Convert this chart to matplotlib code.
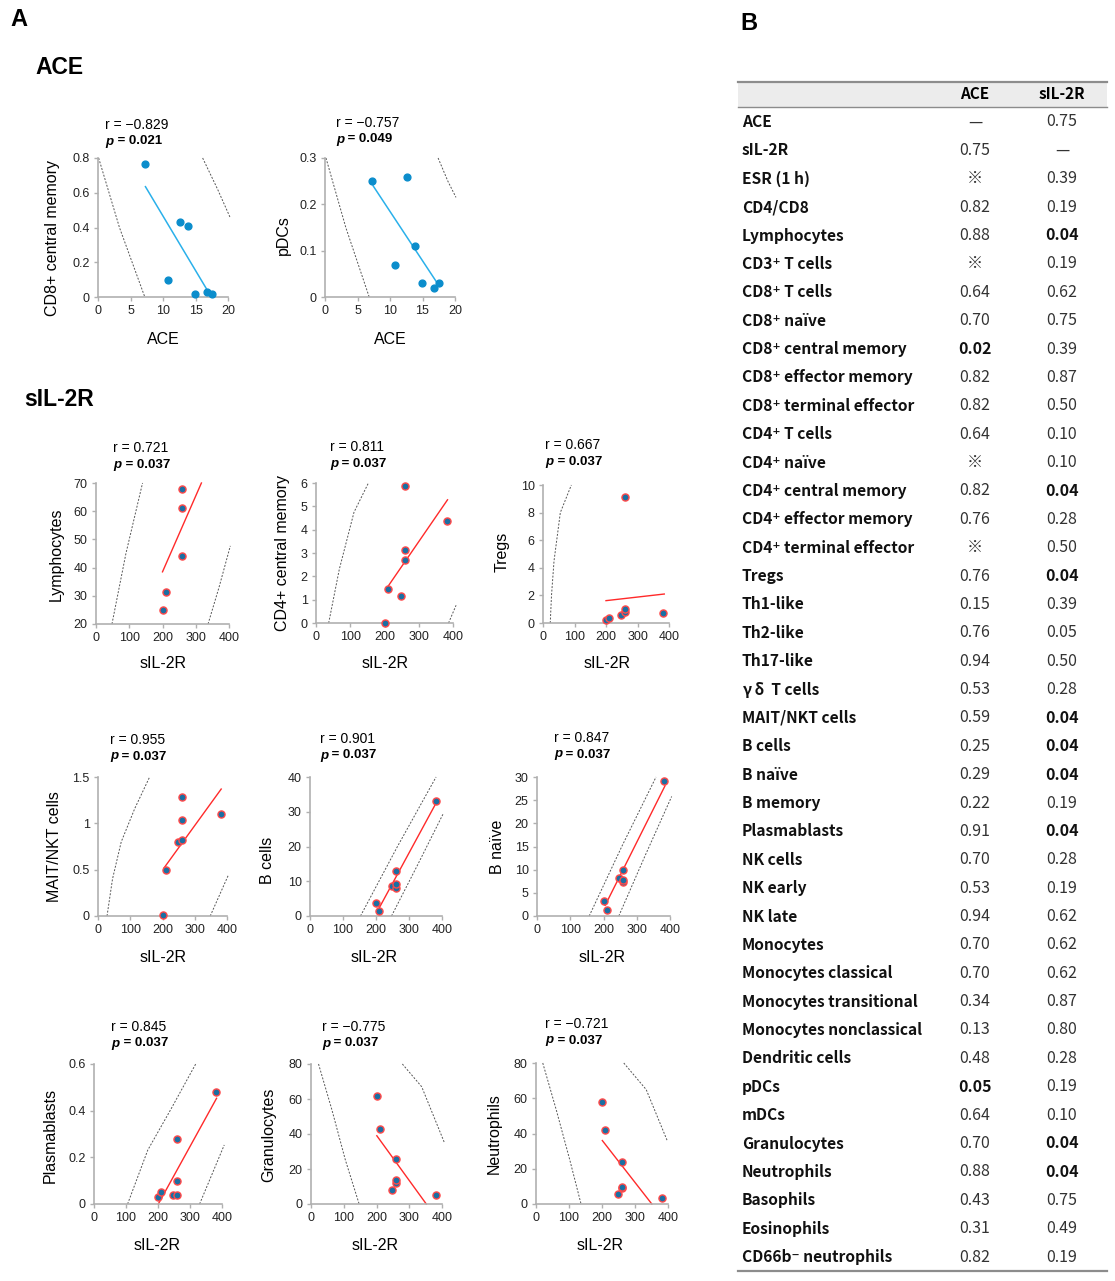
import matplotlib
matplotlib.use('Agg')
import matplotlib.pyplot as plt
from matplotlib.patches import Rectangle
from matplotlib.ticker import FuncFormatter

# ---- data ----

# panel A, ACE correlations
ace_x = [7.3, 10.8, 12.6, 13.9, 14.9, 16.8, 17.6]
cd8cm_y = [0.765, 0.10, 0.43, 0.41, 0.02, 0.03, 0.02]
pdc_y = [0.25, 0.07, 0.26, 0.11, 0.03, 0.02, 0.03]

cd8cm_fit = ([7.3, 16.8], [0.635, 0.04])
pdc_fit = ([7.4, 17.6], [0.24, 0.023])
cd8cm_bands = [([0.1, 3.3, 7.2], [0.8, 0.4, 0.0]), ([16.1, 18.4, 20.3], [0.8, 0.62, 0.46])]
pdc_bands = [([0.15, 3.2, 6.8], [0.3, 0.15, 0.0]), ([17.4, 18.9, 20.15], [0.3, 0.25, 0.215])]

# panel A, sIL-2R correlations
sil_x = [200, 210, 248, 260, 260, 260, 382]
lymph_x = [200, 210, 260, 260, 260]
lymph_y = [25, 31.3, 44, 61, 68]
cd4cm_y = [0, 1.45, 1.15, 2.7, 3.13, 5.89, 4.39]
tregs_y = [0.19, 0.36, 0.6, 0.8, 1.0, 9.1, 0.7]
mait_y = [0.01, 0.50, 0.80, 0.82, 1.04, 1.28, 1.10]
bcells_y = [3.6, 1.4, 8.7, 8.0, 9.3, 13.0, 33.2]
bnaive_y = [3.2, 1.4, 8.2, 7.3, 7.7, 9.9, 29.1]
plasma_y = [0.03, 0.05, 0.04, 0.04, 0.10, 0.28, 0.48]
gran_y = [62, 43, 7.8, 12.2, 13.7, 25.7, 5.3]
neut_y = [58, 42, 5.7, 8.9, 9.7, 23.9, 3.6]

lymph_fit = ([200, 317], [38.5, 70])
cd4cm_fit = ([206, 384], [1.48, 5.28])
tregs_fit = ([200, 385], [1.62, 2.1])
mait_fit = ([205, 382], [0.52, 1.37])
bcells_fit = ([203, 382], [1.15, 32.5])
bnaive_fit = ([205, 385], [2.3, 28.1])
plasma_fit = ([201, 383], [0.0, 0.453])
gran_fit = ([201, 352], [39, 0])
neut_fit = ([201, 351], [36, 0])

lymph_bands = [([48, 90, 140], [20, 45, 70]), ([337, 370, 404], [20, 33, 47.7])]
cd4cm_bands = [([37, 68, 111, 153], [0, 2.3, 4.75, 6]), ([387, 409], [0, 0.76])]
tregs_bands = [([23, 27, 35, 55, 90], [0, 2, 4.5, 8.0, 10])]
mait_bands = [([28, 45, 72, 114, 160], [0, 0.4, 0.8, 1.16, 1.5]), ([348, 404], [0, 0.44])]
bcells_bands = [([153, 265, 382], [0, 20, 40]), ([247, 325, 404], [0, 14.5, 29.5])]
bnaive_bands = [([157, 255, 358], [0, 15, 30]), ([246, 325, 405], [0, 13, 25.8])]
plasma_bands = [([105, 168, 239, 319], [0, 0.231, 0.403, 0.603]), ([330, 407], [0, 0.253])]
gran_bands = [([23, 64, 105, 147], [80, 53.7, 25.1, 0]), ([279, 338, 407], [80, 67, 35.2])]
neut_bands = [([20.5, 61.4, 102.4, 136.5], [80, 53.4, 25, 0]), ([266, 334, 398.6], [80, 64.9, 35.5])]

r_values = ['−0.829', '−0.757', '0.721', '0.811', '0.667', '0.955', '0.901', '0.847',
            '0.845', '−0.775', '−0.721']
p_values = ['0.021', '0.049', '0.037', '0.037', '0.037', '0.037', '0.037', '0.037',
            '0.037', '0.037', '0.037']

# panel B, p values table
row_labels = ['ACE', 'sIL-2R', 'ESR (1 h)', 'CD4/CD8', 'Lymphocytes', 'CD3⁺ T cells',
              'CD8⁺ T cells', 'CD8⁺ naïve', 'CD8⁺ central memory', 'CD8⁺ effector memory',
              'CD8⁺ terminal effector', 'CD4⁺ T cells', 'CD4⁺ naïve', 'CD4⁺ central memory',
              'CD4⁺ effector memory', 'CD4⁺ terminal effector', 'Tregs', 'Th1-like',
              'Th2-like', 'Th17-like', 'γ δ  T cells', 'MAIT/NKT cells', 'B cells',
              'B naïve', 'B memory', 'Plasmablasts', 'NK cells', 'NK early', 'NK late',
              'Monocytes', 'Monocytes classical', 'Monocytes transitional',
              'Monocytes nonclassical', 'Dendritic cells', 'pDCs', 'mDCs', 'Granulocytes',
              'Neutrophils', 'Basophils', 'Eosinophils', 'CD66b⁻ neutrophils']
ace_p = ['—', '0.75', '※', '0.82', '0.88', '※', '0.64', '0.70', '0.02', '0.82', '0.82',
         '0.64', '※', '0.82', '0.76', '※', '0.76', '0.15', '0.76', '0.94', '0.53', '0.59',
         '0.25', '0.29', '0.22', '0.91', '0.70', '0.53', '0.94', '0.70', '0.70', '0.34',
         '0.13', '0.48', '0.05', '0.64', '0.70', '0.88', '0.43', '0.31', '0.82']
sil_p = ['0.75', '—', '0.39', '0.19', '0.04', '0.19', '0.62', '0.75', '0.39', '0.87', '0.50',
         '0.10', '0.10', '0.04', '0.28', '0.50', '0.04', '0.39', '0.05', '0.50', '0.28', '0.04',
         '0.04', '0.04', '0.19', '0.04', '0.28', '0.19', '0.62', '0.62', '0.62', '0.87',
         '0.80', '0.28', '0.19', '0.10', '0.04', '0.04', '0.75', '0.49', '0.19']
ace_sig = ['CD8⁺ central memory', 'pDCs']
sil_sig = ['Lymphocytes', 'CD4⁺ central memory', 'Tregs', 'MAIT/NKT cells', 'B cells',
           'B naïve', 'Plasmablasts', 'Granulocytes', 'Neutrophils']

W, H = 1115, 1281
fig = plt.figure(figsize=(W / 100, H / 100), dpi=100)
plt.rcParams['font.family'] = ['Liberation Sans', 'DejaVu Sans']


def fx(x):
    return x / W


def fy(y):
    return 1 - y / H


def fmt(v, pos):
    return '%g' % v


ACE_DOT, ACE_LINE = '#0b8dcc', '#2ab0ea'
SIL_DOT, SIL_EDGE, SIL_LINE = '#1b6fa3', '#ff4a4a', '#ff2a2a'

# (x data, y data, fit, bands, xlim, xstep, ylim, ystep, ylabel, xlabel,
#  box l t r b, ylabel pos, xlabel pos, r/p pos, ace?)
panels = [
    (ace_x, cd8cm_y, cd8cm_fit, cd8cm_bands, 20, 5, (0, 0.8), 0.2, 'CD8+ central memory', 'ACE',
     (98, 158, 228, 297), (53, 238), (163, 339), (105, 125), True),
    (ace_x, pdc_y, pdc_fit, pdc_bands, 20, 5, (0, 0.3), 0.1, 'pDCs', 'ACE',
     (325, 158, 455, 297), (283, 235), (390, 339), (336, 123), True),
    (lymph_x, lymph_y, lymph_fit, lymph_bands, 400, 100, (20, 70), 10, 'Lymphocytes', 'sIL-2R',
     (96, 483, 229, 624), (56, 554), (163, 663), (113, 448), False),
    (sil_x, cd4cm_y, cd4cm_fit, cd4cm_bands, 400, 100, (0, 6), 1, 'CD4+ central memory', 'sIL-2R',
     (316, 483, 453, 623), (283, 553), (385, 663), (330, 447), False),
    (sil_x, tregs_y, tregs_fit, tregs_bands, 400, 100, (0, 10), 2, 'Tregs', 'sIL-2R',
     (543, 485, 669, 623), (502, 552), (607, 663), (545, 445), False),
    (sil_x, mait_y, mait_fit, mait_bands, 400, 100, (0, 1.5), 0.5, 'MAIT/NKT cells', 'sIL-2R',
     (98, 777, 227, 916), (55, 847), (163, 958), (110, 740), False),
    (sil_x, bcells_y, bcells_fit, bcells_bands, 400, 100, (0, 40), 10, 'B cells', 'sIL-2R',
     (310, 777, 442, 916), (268, 860), (374, 958), (320, 739), False),
    (sil_x, bnaive_y, bnaive_fit, bnaive_bands, 400, 100, (0, 30), 5, 'B naïve', 'sIL-2R',
     (537, 777, 670, 916), (497, 847), (602, 958), (554, 738), False),
    (sil_x, plasma_y, plasma_fit, plasma_bands, 400, 100, (0, 0.6), 0.2, 'Plasmablasts', 'sIL-2R',
     (94, 1064, 222, 1204), (50, 1135), (157, 1246), (111, 1027), False),
    (sil_x, gran_y, gran_fit, gran_bands, 400, 100, (0, 80), 20, 'Granulocytes', 'sIL-2R',
     (311, 1064, 442, 1204), (269, 1135), (375, 1246), (322, 1027), False),
    (sil_x, neut_y, neut_fit, neut_bands, 400, 100, (0, 80), 20, 'Neutrophils', 'sIL-2R',
     (536, 1063, 668, 1204), (494, 1134), (600, 1246), (545, 1024), False),
]

for i, (xs, ys, fit, bands, xmax, xstep, ylim, ystep, ylab, xlab, bx, ylp, xlp, rp, is_ace) in enumerate(panels):
    l, t, r, b = bx
    ax = fig.add_axes([fx(l), fy(b), (r - l) / W, (b - t) / H])
    for band_x, band_y in bands:
        ax.plot(band_x, band_y, ls=(0, (2, 1.6)), lw=0.7, color='#555555', clip_on=False)
    if is_ace:
        ax.plot(fit[0], fit[1], color=ACE_LINE, lw=1.1, clip_on=False)
        ax.scatter(xs, ys, s=24, c=ACE_DOT, edgecolors=ACE_DOT, zorder=3, clip_on=False)
    else:
        ax.plot(fit[0], fit[1], color=SIL_LINE, lw=1.0, clip_on=False)
        ax.scatter(xs, ys, s=26, c=SIL_DOT, edgecolors=SIL_EDGE, linewidths=1.0, zorder=3,
                   clip_on=False)
    ax.set_xlim(0, xmax)
    ax.set_ylim(*ylim)
    xt = [k * xstep for k in range(int(round(xmax / xstep)) + 1)]
    ny = int(round((ylim[1] - ylim[0]) / ystep))
    yt = [round(ylim[0] + k * ystep, 3) for k in range(ny + 1)]
    ax.set_xticks(xt)
    ax.set_yticks(yt)
    ax.xaxis.set_major_formatter(FuncFormatter(fmt))
    ax.yaxis.set_major_formatter(FuncFormatter(fmt))
    ax.patch.set_alpha(0)
    for s in ['top', 'right']:
        ax.spines[s].set_visible(False)
    for s in ['left', 'bottom']:
        ax.spines[s].set_color('#b0b0b0')
        ax.spines[s].set_linewidth(1.2)
    ax.tick_params(length=3, width=1, color='#b0b0b0', labelsize=9, pad=3, labelcolor='#222222')

    fig.text(fx(ylp[0]), fy(ylp[1]), ylab, rotation=90, ha='center', va='center', fontsize=11.5)
    fig.text(fx(xlp[0]), fy(xlp[1]), xlab, ha='center', va='center', fontsize=11.5)
    fig.text(fx(rp[0]), fy(rp[1]), 'r = ' + r_values[i], ha='left', va='center', fontsize=10)
    fig.text(fx(rp[0]), fy(rp[1] + 16.5), 'p', ha='left', va='center', fontsize=9.5,
             fontweight='bold', fontstyle='italic')
    fig.text(fx(rp[0] + 8.5), fy(rp[1] + 16.5), ' = ' + p_values[i], ha='left', va='center',
             fontsize=9.5, fontweight='bold')

# section titles
fig.text(fx(10), fy(20), 'A', fontsize=17, fontweight='bold', ha='left', va='center')
fig.text(fx(35), fy(68), 'ACE', fontsize=16.5, fontweight='bold', ha='left', va='center')
fig.text(fx(24), fy(399), 'sIL-2R', fontsize=16.5, fontweight='bold', ha='left', va='center')
fig.text(fx(740), fy(24), 'B', fontsize=17, fontweight='bold', ha='left', va='center')

# ---- table B ----
jp = ['Noto Sans CJK JP', 'DejaVu Sans']
tl, tr = 738, 1107
fig.patches.append(Rectangle((fx(tl), fy(107)), (tr - tl) / W, 25 / H, transform=fig.transFigure,
                             facecolor='#ececec', edgecolor='none'))
fig.add_artist(plt.Line2D([fx(tl), fx(tr)], [fy(82), fy(82)], color='#8c8c8c', lw=1.6))
fig.add_artist(plt.Line2D([fx(tl), fx(tr)], [fy(107), fy(107)], color='#8c8c8c', lw=1.0))
fig.add_artist(plt.Line2D([fx(tl), fx(tr)], [fy(1271), fy(1271)], color='#8c8c8c', lw=1.6))
col_ace, col_sil = 975, 1062
fig.text(fx(col_ace), fy(94), 'ACE', family=jp, fontsize=11, fontweight='bold', ha='center', va='center')
fig.text(fx(col_sil), fy(94), 'sIL-2R', family=jp, fontsize=11, fontweight='bold', ha='center', va='center')

row_gap = (1257 - 122) / (len(row_labels) - 1)
for k, lab in enumerate(row_labels):
    y = 122 + k * row_gap
    fig.text(fx(742), fy(y), lab, family=jp, fontsize=11.2, fontweight='bold', ha='left',
             va='center', color='#111111')
    fig.text(fx(col_ace), fy(y), ace_p[k], family=jp, fontsize=11.5, ha='center', va='center',
             fontweight='bold' if lab in ace_sig else 'normal',
             color='#111111' if lab in ace_sig else '#333333')
    fig.text(fx(col_sil), fy(y), sil_p[k], family=jp, fontsize=11.5, ha='center', va='center',
             fontweight='bold' if lab in sil_sig else 'normal',
             color='#111111' if lab in sil_sig else '#333333')

fig.savefig('out.png', dpi=100)
